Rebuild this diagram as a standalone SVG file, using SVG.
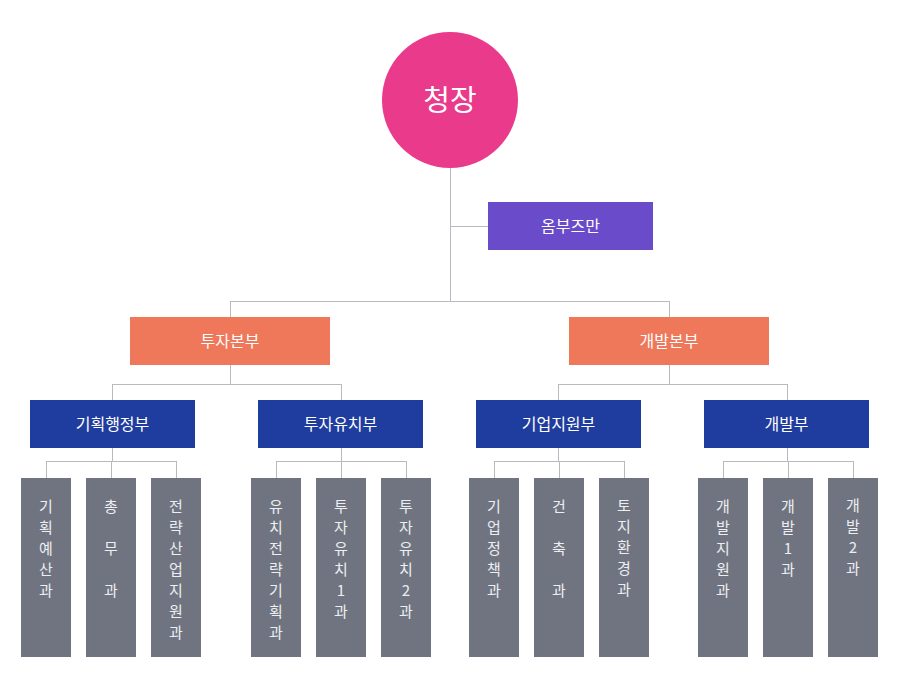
<svg xmlns="http://www.w3.org/2000/svg" width="900" height="680" viewBox="0 0 900 680">
<style>
text{font-family:"Malgun Gothic","Noto Sans CJK KR","Noto Sans",sans-serif;fill:#fff;text-anchor:middle}
.c path{fill:none;stroke:#b9b9c0;stroke-width:1}
.hq{fill:#ee7859}
.dp{fill:#1f3c9f}
.tm{fill:#6f7480}
.lb{font-size:16px}
.ct{font-size:15px;fill:#eceef2}
</style>
<rect width="900" height="680" fill="#fff"/>
<g class="c" id="connectors">
<path d="M450.5 168V301M450.5 226.5H488M230.5 301.5H669.5M230.5 301V317M669.5 301V317"/>
<path d="M230.5 365V384.5M112.5 384.5H341.5M112.5 384V400M341.5 384V400"/>
<path d="M669.5 365V384.5M558.5 384.5H787.5M558.5 384V400M787.5 384V400"/>
<path d="M112.5 448V461.5M46.5 461.5H176.5M46.5 461V478M111.5 461V478M176.5 461V478"/>
<path d="M341.5 448V461.5M276.5 461.5H406.5M276.5 461V478M341.5 461V478M406.5 461V478"/>
<path d="M558.5 448V461.5M494.5 461.5H624.5M494.5 461V478M559.5 461V478M624.5 461V478"/>
<path d="M787.5 448V461.5M723.5 461.5H853.5M723.5 461V478M788.5 461V478M853.5 461V478"/>
</g>
<g id="chief"><circle cx="450" cy="100" r="68" fill="#ea3a8b"/><text x="450" y="111" font-size="29">청장</text></g>
<g id="ombudsman"><rect x="488" y="202" width="165" height="48" fill="#6a4bc9"/><text class="lb" x="570.5" y="232" font-size="15">옴부즈만</text></g>
<g id="invest-hq"><rect class="hq" x="130" y="317" width="200" height="48"/><text class="lb" x="230" y="347">투자본부</text></g>
<g id="dev-hq"><rect class="hq" x="569" y="317" width="200" height="48"/><text class="lb" x="669" y="347">개발본부</text></g>
<g id="plan-admin"><rect class="dp" x="30" y="400" width="165" height="48"/><text class="lb" x="112.5" y="430">기획행정부</text></g>
<g id="invest-attract"><rect class="dp" x="258" y="400" width="165" height="48"/><text class="lb" x="340.5" y="430">투자유치부</text></g>
<g id="biz-support"><rect class="dp" x="476" y="400" width="165" height="48"/><text class="lb" x="558.5" y="430">기업지원부</text></g>
<g id="dev-dept"><rect class="dp" x="704" y="400" width="165" height="48"/><text class="lb" x="786.5" y="430">개발부</text></g>

<g id="t1"><rect class="tm" x="21" y="478" width="50" height="179"/><text class="ct"><tspan x="46" y="512">기</tspan><tspan x="46" y="533">획</tspan><tspan x="46" y="554">예</tspan><tspan x="46" y="575">산</tspan><tspan x="46" y="596">과</tspan></text></g>
<g id="t2"><rect class="tm" x="86" y="478" width="50" height="179"/><text class="ct"><tspan x="111" y="512">총</tspan><tspan x="111" y="554">무</tspan><tspan x="111" y="596">과</tspan></text></g>
<g id="t3"><rect class="tm" x="151" y="478" width="50" height="179"/><text class="ct"><tspan x="176" y="512">전</tspan><tspan x="176" y="533">략</tspan><tspan x="176" y="554">산</tspan><tspan x="176" y="575">업</tspan><tspan x="176" y="596">지</tspan><tspan x="176" y="617">원</tspan><tspan x="176" y="638">과</tspan></text></g>
<g id="t4"><rect class="tm" x="251" y="478" width="50" height="179"/><text class="ct"><tspan x="276" y="512">유</tspan><tspan x="276" y="533">치</tspan><tspan x="276" y="554">전</tspan><tspan x="276" y="575">략</tspan><tspan x="276" y="596">기</tspan><tspan x="276" y="617">획</tspan><tspan x="276" y="638">과</tspan></text></g>
<g id="t5"><rect class="tm" x="316" y="478" width="50" height="179"/><text class="ct"><tspan x="341" y="512">투</tspan><tspan x="341" y="533">자</tspan><tspan x="341" y="554">유</tspan><tspan x="341" y="575">치</tspan><tspan x="341" y="596">1</tspan><tspan x="341" y="617">과</tspan></text></g>
<g id="t6"><rect class="tm" x="381" y="478" width="50" height="179"/><text class="ct"><tspan x="406" y="512">투</tspan><tspan x="406" y="533">자</tspan><tspan x="406" y="554">유</tspan><tspan x="406" y="575">치</tspan><tspan x="406" y="596">2</tspan><tspan x="406" y="617">과</tspan></text></g>
<g id="t7"><rect class="tm" x="469" y="478" width="50" height="179"/><text class="ct"><tspan x="494" y="512">기</tspan><tspan x="494" y="533">업</tspan><tspan x="494" y="554">정</tspan><tspan x="494" y="575">책</tspan><tspan x="494" y="596">과</tspan></text></g>
<g id="t8"><rect class="tm" x="534" y="478" width="50" height="179"/><text class="ct"><tspan x="559" y="512">건</tspan><tspan x="559" y="554">축</tspan><tspan x="559" y="596">과</tspan></text></g>
<g id="t9"><rect class="tm" x="599" y="478" width="50" height="179"/><text class="ct"><tspan x="624" y="511">토</tspan><tspan x="624" y="532">지</tspan><tspan x="624" y="553">환</tspan><tspan x="624" y="574">경</tspan><tspan x="624" y="595">과</tspan></text></g>
<g id="t10"><rect class="tm" x="698" y="478" width="50" height="179"/><text class="ct"><tspan x="723" y="512">개</tspan><tspan x="723" y="533">발</tspan><tspan x="723" y="554">지</tspan><tspan x="723" y="575">원</tspan><tspan x="723" y="596">과</tspan></text></g>
<g id="t11"><rect class="tm" x="763" y="478" width="50" height="179"/><text class="ct"><tspan x="788" y="512">개</tspan><tspan x="788" y="533">발</tspan><tspan x="788" y="554">1</tspan><tspan x="788" y="575">과</tspan></text></g>
<g id="t12"><rect class="tm" x="828" y="478" width="50" height="179"/><text class="ct"><tspan x="853" y="511">개</tspan><tspan x="853" y="532">발</tspan><tspan x="853" y="553">2</tspan><tspan x="853" y="574">과</tspan></text></g>
</svg>
